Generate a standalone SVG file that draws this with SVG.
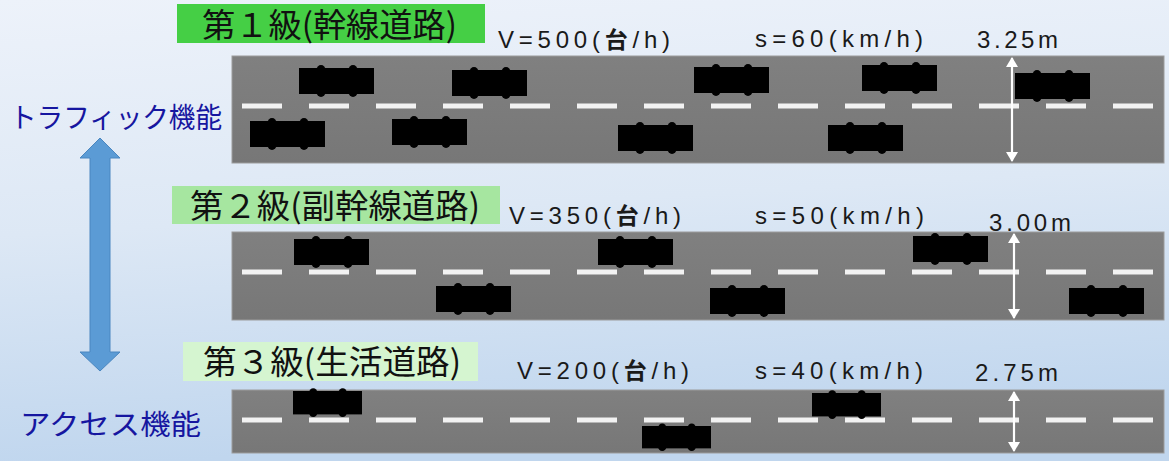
<svg xmlns="http://www.w3.org/2000/svg" width="1169" height="461" viewBox="0 0 1169 461">
  <defs>
    <linearGradient id="bg" x1="0" y1="0" x2="0.15" y2="1">
      <stop offset="0" stop-color="#edf2fa"/>
      <stop offset="0.5" stop-color="#dde8f5"/>
      <stop offset="1" stop-color="#c0d6ee"/>
    </linearGradient>
    <linearGradient id="asphalt" x1="0" y1="0" x2="0" y2="1">
      <stop offset="0" stop-color="#808080"/>
      <stop offset="1" stop-color="#777777"/>
    </linearGradient>
    <!-- car seen from above: body with four wheels -->
    <g id="car">
      <rect x="0" y="0" width="75" height="26" fill="#000"/>
      <ellipse cx="22" cy="2" rx="4.5" ry="5" fill="#000"/>
      <ellipse cx="54" cy="2" rx="4.5" ry="5" fill="#000"/>
      <ellipse cx="22" cy="24" rx="4.5" ry="5" fill="#000"/>
      <ellipse cx="54" cy="24" rx="4.5" ry="5" fill="#000"/>
    </g>
    <marker id="tipW" viewBox="0 0 10 12" refX="9" refY="6" markerWidth="10" markerHeight="12" markerUnits="userSpaceOnUse" orient="auto-start-reverse">
      <path d="M0,0 L10,6 L0,12 Z" fill="#fff"/>
    </marker>
  </defs>
  <style>
    .road { fill: url(#asphalt); stroke: #9c9c9c; stroke-width: 1; }
    .lane { stroke: #f2f2f2; stroke-width: 5; stroke-dasharray: 40 27; fill: none; }
    .dim { stroke: #fff; stroke-width: 2.2; fill: none; marker-start: url(#tipW); marker-end: url(#tipW); }
    .title { font-family: "Noto Sans CJK JP", "Noto Sans", sans-serif; font-size: 33px; fill: #111; }
    .func { font-family: "Noto Sans CJK JP", "Noto Sans", sans-serif; font-size: 28px; fill: #1616a0; }
    .val { font-family: "Liberation Sans", "Noto Sans CJK JP", sans-serif; font-size: 24px; fill: #1a1a1a; }
    .val tspan.b { font-family: "Noto Sans CJK JP", sans-serif; font-weight: bold; font-size: 23px; }
  </style>

  <rect width="1169" height="461" fill="url(#bg)"/>

  <!-- function axis -->
  <g id="function-axis">
    <text class="func" x="10" y="128" textLength="212" lengthAdjust="spacingAndGlyphs">トラフィック機能</text>
    <text class="func" x="20" y="435" textLength="181" lengthAdjust="spacingAndGlyphs">アクセス機能</text>
    <path d="M100,138 L120,158 L110,158 L110,352 L120,352 L100,371 L80,352 L90,352 L90,158 L80,158 Z" fill="#5b9bd5" stroke="#4a86c0" stroke-width="1"/>
  </g>

  <!-- class 1 : arterial road -->
  <g id="road-1">
    <rect x="177" y="4" width="308" height="39" fill="#45cf45"/>
    <text class="title" x="202" y="37" textLength="255" lengthAdjust="spacingAndGlyphs">第１級(幹線道路)</text>
    <text class="val" x="498" y="48" textLength="172" lengthAdjust="spacing">V=500(<tspan class="b">台</tspan>/h)</text>
    <text class="val" x="755" y="47" textLength="168" lengthAdjust="spacing">s=60(km/h)</text>
    <text class="val" x="977" y="48" textLength="81" lengthAdjust="spacing">3.25m</text>
    <rect class="road" x="232" y="56" width="932" height="107"/>
    <line class="lane" x1="242" y1="106" x2="1153" y2="106"/>
    <use href="#car" x="299" y="68"/>
    <use href="#car" x="452" y="70"/>
    <use href="#car" x="694" y="67"/>
    <use href="#car" x="862" y="65"/>
    <use href="#car" x="1015" y="73"/>
    <use href="#car" x="250" y="121"/>
    <use href="#car" x="392" y="119"/>
    <use href="#car" x="618" y="125"/>
    <use href="#car" x="828" y="125"/>
    <line class="dim" x1="1012" y1="58" x2="1012" y2="161"/>
  </g>

  <!-- class 2 : sub-arterial road -->
  <g id="road-2">
    <rect x="172" y="186" width="328" height="38" fill="#a6e6a0"/>
    <text class="title" x="190" y="218" textLength="290" lengthAdjust="spacingAndGlyphs">第２級(副幹線道路)</text>
    <text class="val" x="509" y="224" textLength="172" lengthAdjust="spacing">V=350(<tspan class="b">台</tspan>/h)</text>
    <text class="val" x="755" y="224" textLength="169" lengthAdjust="spacing">s=50(km/h)</text>
    <text class="val" x="989" y="231" textLength="82" lengthAdjust="spacing">3.00m</text>
    <rect class="road" x="232" y="232" width="932" height="88"/>
    <line class="lane" x1="242" y1="272" x2="1153" y2="272"/>
    <use href="#car" x="294" y="239"/>
    <use href="#car" x="598" y="239"/>
    <use href="#car" x="913" y="236"/>
    <use href="#car" x="436" y="286"/>
    <use href="#car" x="710" y="288"/>
    <use href="#car" x="1069" y="288"/>
    <line class="dim" x1="1014" y1="234" x2="1014" y2="318"/>
  </g>

  <!-- class 3 : local road -->
  <g id="road-3">
    <rect x="183" y="342" width="295" height="39" fill="#d5f5d0"/>
    <text class="title" x="203" y="374" textLength="258" lengthAdjust="spacingAndGlyphs">第３級(生活道路)</text>
    <text class="val" x="517" y="379" textLength="172" lengthAdjust="spacing">V=200(<tspan class="b">台</tspan>/h)</text>
    <text class="val" x="755" y="379" textLength="168" lengthAdjust="spacing">s=40(km/h)</text>
    <text class="val" x="975" y="381" textLength="83" lengthAdjust="spacing">2.75m</text>
    <rect class="road" x="232" y="390" width="932" height="63"/>
    <line class="lane" x1="242" y1="420" x2="1153" y2="420"/>
    <use href="#car" transform="translate(293,391) scale(0.92,0.9)"/>
    <use href="#car" transform="translate(812,393) scale(0.92,0.9)"/>
    <use href="#car" transform="translate(642,426) scale(0.92,0.86)"/>
    <line class="dim" x1="1014" y1="392" x2="1014" y2="451"/>
  </g>
</svg>
